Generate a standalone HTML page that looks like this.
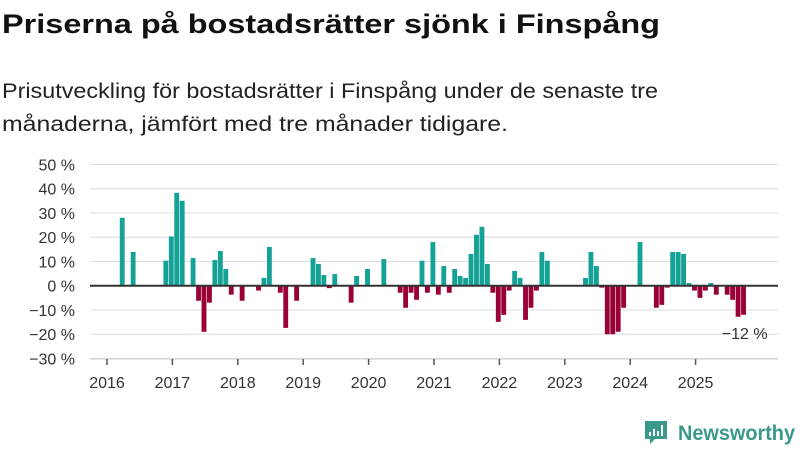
<!DOCTYPE html>
<html><head><meta charset="utf-8"><style>
body{margin:0;background:#fff;}
svg{display:block;font-family:"Liberation Sans",sans-serif;}
</style></head><body>
<svg id="chart" width="800" height="450">
<text x="2" y="33" font-size="27" font-weight="bold" fill="#111" textLength="658" lengthAdjust="spacingAndGlyphs">Priserna på bostadsrätter sjönk i Finspång</text>
<text x="2" y="98" font-size="21" fill="#222" textLength="656" lengthAdjust="spacingAndGlyphs">Prisutveckling för bostadsrätter i Finspång under de senaste tre</text>
<text x="2" y="131" font-size="21" fill="#222" textLength="506" lengthAdjust="spacingAndGlyphs">månaderna, jämfört med tre månader tidigare.</text>
<g id="grid"></g><g id="bars"></g><g id="axes"></g>
<g>
<path d="M645 421h22v18h-12l-5 5v-5h-5z" fill="#3a9a8a"/>
<rect x="649" y="432" width="2" height="4" fill="#fff"/><rect x="653" y="429" width="2" height="7" fill="#fff"/><rect x="657" y="431" width="2" height="5" fill="#fff"/><rect x="661" y="425" width="2" height="11" fill="#fff"/>
<text x="678" y="440" font-size="21" font-weight="bold" fill="#3a9a8a" textLength="117" lengthAdjust="spacingAndGlyphs">Newsworthy</text>
</g>
</svg>
<script>
const yTicks=[50,40,30,20,10,0,-10,-20,-30];
const years=[2016,2017,2018,2019,2020,2021,2022,2023,2024,2025];
// monthly values from Jan 2016 (index 0), null = no data
const values=[null,null,28,null,13.9,null,null,null,null,null,10.3,20.3,
38.3,35,null,11.4,-6.2,-19,-7,10.6,14.3,6.9,-3.7,null,
-6.2,null,null,-2,3.2,16,null,-2.9,-17.4,null,-6.2,null,
null,11.4,9,4.4,-1,4.8,null,null,-7,4,null,6.9,
null,null,11,null,null,-2.9,-9.1,-2.9,-5.8,10.3,-2.9,18,
-3.7,8.1,-2.9,6.9,4,3.2,13.1,21,24.3,9,-2.9,-14.9,
-12,-2,6.1,3.2,-14.1,-9.1,-2,13.9,10.3,null,null,null,
null,null,null,3.2,13.9,8.1,-0.8,-20,-20,-19,-9.1,null,
null,18,null,null,-9.1,-7.9,-0.8,13.9,13.9,13.1,1.1,-2,
-5,-2,1.1,-3.7,null,-3.7,-5.8,-12.8,-12];
const lastLabel="−12 %";
const NS="http://www.w3.org/2000/svg";
const y0=285.7, pp=2.425, xYear0=107, m=65.4/12;
const yS=v=>y0-v*pp;
const xM=i=>xYear0+(i+0.35)*m;
const grid=document.getElementById('grid'),bars=document.getElementById('bars'),axes=document.getElementById('axes');
function mk(t,a,p){const e=document.createElementNS(NS,t);for(const k in a)e.setAttribute(k,a[k]);p.appendChild(e);return e;}
yTicks.forEach(v=>{
 const l=mk('line',{x1:90,x2:778,y1:yS(v),y2:yS(v),stroke:v===0?'#333':'#ddd','stroke-width':v===0?2:1},v===0?axes:grid);
 
 
 const t=mk('text',{x:75,y:yS(v)+6,'text-anchor':'end','font-size':16,fill:'#333'},grid);
 t.textContent=(v<0?'−':'')+Math.abs(v)+' %';
 
 
});
mk('line',{x1:90,x2:778,y1:yS(-30)+.5,y2:yS(-30)+.5,stroke:'#ccc'},grid);
years.forEach((y,k)=>{
 const x=xYear0+k*65.4;
 const l=mk('line',{x1:x,x2:x,y1:359,y2:365,stroke:'#555','stroke-width':1.5},axes);
 
 
 const t=mk('text',{x:x,y:388,'text-anchor':'middle','font-size':16,fill:'#333'},axes);
 t.textContent=y;
 
 
});
let last=-1;
values.forEach((v,i)=>{
 if(v===null)return;last=i;
 const top=v>=0?yS(v):y0, h=Math.abs(v)*pp;
 const r=mk('rect',{x:xM(i),y:top,width:m-0.6,height:h,fill:v>=0?'#14a196':'#990038'},bars);
 
 
});
const lt=mk('text',{x:xM(last)+m+21,y:yS(values[last])+24,'text-anchor':'end','font-size':16,fill:'#333'},axes);
lt.textContent=lastLabel;


</script>
</body></html>
